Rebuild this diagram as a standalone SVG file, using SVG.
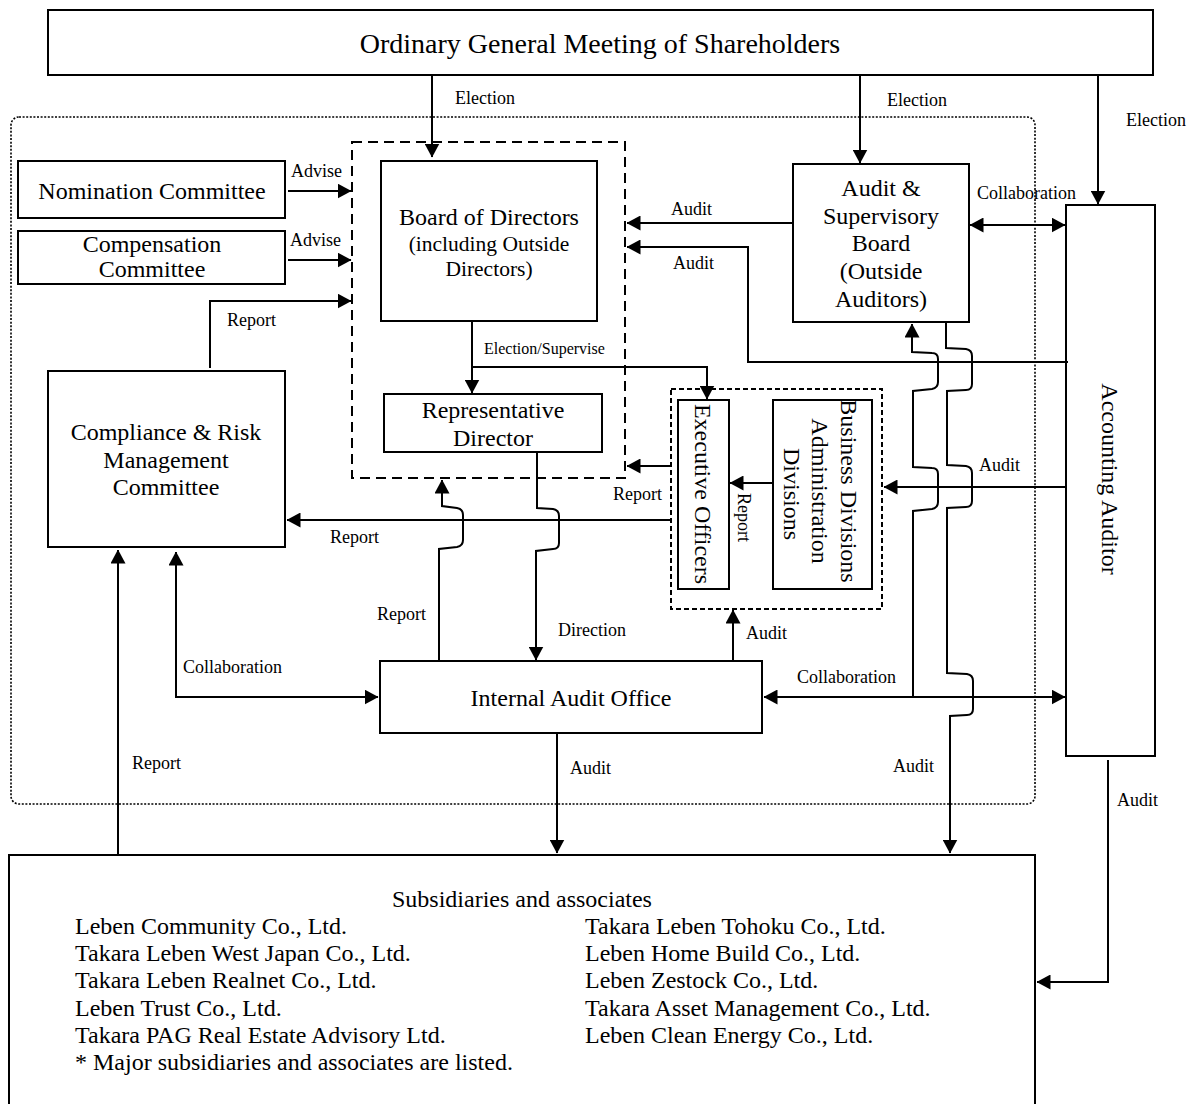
<svg xmlns="http://www.w3.org/2000/svg" width="1193" height="1104" viewBox="0 0 1193 1104">
<defs>
<marker id="ah" viewBox="0 0 14 15" markerWidth="14" markerHeight="15" refX="13.5" refY="7.5" orient="auto-start-reverse" markerUnits="userSpaceOnUse">
<path d="M0,0 L14,7.5 L0,15 Z" fill="#000"/>
</marker>
<style>
.box{fill:#fff;stroke:#000;stroke-width:2}
.t{font-family:"Liberation Serif","Times New Roman",serif;font-size:24px;fill:#000}
.tc{text-anchor:middle}
.lb{font-family:"Liberation Serif","Times New Roman",serif;font-size:18px;fill:#000}
.ln{fill:none;stroke:#000;stroke-width:2}
.ar{marker-end:url(#ah)}
.bi{marker-start:url(#ah);marker-end:url(#ah)}
</style>
</defs>
<rect width="1193" height="1104" fill="#fff"/>

<g id="scope">
<rect x="11" y="117" width="1024" height="687" rx="8" fill="none" stroke="#000" stroke-width="1.6" stroke-dasharray="2 1.6"/>
</g>
<g id="board-group">
<rect x="352" y="142" width="273" height="336" fill="none" stroke="#000" stroke-width="2" stroke-dasharray="10 6"/>
</g>
<g id="exec-group">
<rect x="671" y="389" width="211" height="220" fill="none" stroke="#000" stroke-width="2" stroke-dasharray="5 3"/>
</g>

<g id="shareholders">
<rect class="box" x="48" y="10" width="1105" height="65"/>
<text class="t tc" x="600" y="53" style="font-size:28px">Ordinary General Meeting of Shareholders</text>
</g>
<g id="nomination">
<rect class="box" x="18" y="161" width="267" height="57"/>
<text class="t tc" x="152" y="199">Nomination Committee</text>
</g>
<g id="compensation">
<rect class="box" x="18" y="231" width="267" height="53"/>
<text class="t tc" x="152" y="252">Compensation</text>
<text class="t tc" x="152" y="277">Committee</text>
</g>
<g id="board">
<rect class="box" x="381" y="161" width="216" height="160"/>
<text class="t tc" x="489" y="225">Board of Directors</text>
<text class="t tc" x="489" y="251" style="font-size:21.5px">(including Outside</text>
<text class="t tc" x="489" y="276" style="font-size:21.5px">Directors)</text>
</g>
<g id="representative">
<rect class="box" x="384" y="394" width="218" height="58"/>
<text class="t tc" x="493" y="418">Representative</text>
<text class="t tc" x="493" y="446">Director</text>
</g>
<g id="audit-board">
<rect class="box" x="793" y="164" width="176" height="158"/>
<text class="t tc" x="881" y="196">Audit &amp;</text>
<text class="t tc" x="881" y="224">Supervisory</text>
<text class="t tc" x="881" y="251">Board</text>
<text class="t tc" x="881" y="279">(Outside</text>
<text class="t tc" x="881" y="307">Auditors)</text>
</g>
<g id="accounting">
<rect class="box" x="1066" y="205" width="89" height="551"/>
<text class="t tc" transform="translate(1110,479) rotate(90)" y="8">Accounting Auditor</text>
</g>
<g id="compliance">
<rect class="box" x="48" y="371" width="237" height="176"/>
<text class="t tc" x="166" y="440">Compliance &amp; Risk</text>
<text class="t tc" x="166" y="468">Management</text>
<text class="t tc" x="166" y="495">Committee</text>
</g>
<g id="executive">
<rect class="box" x="678" y="400" width="51" height="189"/>
<text class="t tc" transform="translate(703,494) rotate(90)" y="8">Executive Officers</text>
</g>
<g id="divisions">
<rect class="box" x="773" y="400" width="99" height="189"/>
<text class="t tc" transform="translate(820,494) rotate(90)">
<tspan x="0" y="-21">Business Divisions</tspan>
<tspan x="0" y="8">Administration</tspan>
<tspan x="0" y="36">Divisions</tspan>
</text>
</g>
<g id="internal-audit">
<rect class="box" x="380" y="661" width="382" height="72"/>
<text class="t tc" x="571" y="706">Internal Audit Office</text>
</g>
<g id="subsidiaries">
<rect class="box" x="9" y="855" width="1026" height="262"/>
<text class="t" x="392" y="907">Subsidiaries and associates</text>
<text class="t" x="75" y="934">Leben Community Co., Ltd.</text>
<text class="t" x="75" y="961">Takara Leben West Japan Co., Ltd.</text>
<text class="t" x="75" y="988">Takara Leben Realnet Co., Ltd.</text>
<text class="t" x="75" y="1016">Leben Trust Co., Ltd.</text>
<text class="t" x="75" y="1043">Takara PAG Real Estate Advisory Ltd.</text>
<text class="t" x="75" y="1070">* Major subsidiaries and associates are listed.</text>
<text class="t" x="585" y="934">Takara Leben Tohoku Co., Ltd.</text>
<text class="t" x="585" y="961">Leben Home Build Co., Ltd.</text>
<text class="t" x="585" y="988">Leben Zestock Co., Ltd.</text>
<text class="t" x="585" y="1016">Takara Asset Management Co., Ltd.</text>
<text class="t" x="585" y="1043">Leben Clean Energy Co., Ltd.</text>
</g>

<g id="connectors">
<path class="ln ar" d="M432,75 V157"/>
<path class="ln ar" d="M860,75 V163"/>
<path class="ln ar" d="M1098,75 V204"/>
<path class="ln ar" d="M288,191 H351"/>
<path class="ln ar" d="M288,260 H351"/>
<path class="ln ar" d="M210,368 V301 H351"/>
<path class="ln ar" d="M793,223 H627"/>
<path class="ln ar" d="M1068,362 H748 V247 H627"/>
<path class="ln bi" d="M970,225 H1065"/>
<path class="ln ar" d="M472,321 V393"/>
<path class="ln ar" d="M472,367 H707 V399"/>
<path class="ln ar" d="M671,466 H627"/>
<path class="ln ar" d="M671,520 H287"/>
<path class="ln ar" d="M773,483 H730"/>
<path class="ln ar" d="M1066,487 H884"/>
<path class="ln ar" d="M439,661 V549 L457,547 Q463,546 463,540 V515 Q463,509 457,508 L442,506 V480"/>
<path class="ln ar" d="M537,452 V508 L553,509 Q559,510 559,516 V543 Q559,549 553,549 L536,551 V660"/>
<path class="ln ar" d="M733,661 V610"/>
<path class="ln bi" d="M764,697 H1065"/>
<path class="ln ar" d="M913,697 V511 L932,509 Q938,508 938,502 V474 Q938,468 932,468 L913,467 V391 L932,389 Q938,388 938,382 V359 Q938,353 932,353 L912,352 V324"/>
<path class="ln ar" d="M946,322 V348 L966,349 Q972,350 972,356 V384 Q972,390 966,390 L947,391 V465 L966,466 Q972,467 972,473 V501 Q972,507 966,507 L947,508 V673 L967,674 Q973,675 973,681 V709 Q973,715 967,715 L950,716 V853"/>
<path class="ln ar" d="M557,734 V853"/>
<path class="ln bi" d="M176,552 V697 H378"/>
<path class="ln ar" d="M118,855 V550"/>
<path class="ln ar" d="M1108,760 V982 H1037"/>
</g>

<g id="labels">
<text class="lb" x="455" y="104">Election</text>
<text class="lb" x="887" y="106">Election</text>
<text class="lb" x="1126" y="126">Election</text>
<text class="lb" x="291" y="177">Advise</text>
<text class="lb" x="290" y="246">Advise</text>
<text class="lb" x="227" y="326">Report</text>
<text class="lb" x="671" y="215">Audit</text>
<text class="lb" x="673" y="269">Audit</text>
<text class="lb" x="977" y="199">Collaboration</text>
<text class="lb" x="484" y="354" style="font-size:16px">Election/Supervise</text>
<text class="lb" x="613" y="500">Report</text>
<text class="lb" x="330" y="543">Report</text>
<text class="lb" transform="translate(738,493) rotate(90)">Report</text>
<text class="lb" x="979" y="471">Audit</text>
<text class="lb" x="377" y="620">Report</text>
<text class="lb" x="558" y="636">Direction</text>
<text class="lb" x="746" y="639">Audit</text>
<text class="lb" x="797" y="683">Collaboration</text>
<text class="lb" x="183" y="673">Collaboration</text>
<text class="lb" x="132" y="769">Report</text>
<text class="lb" x="570" y="774">Audit</text>
<text class="lb" x="893" y="772">Audit</text>
<text class="lb" x="1117" y="806">Audit</text>
</g>
</svg>
